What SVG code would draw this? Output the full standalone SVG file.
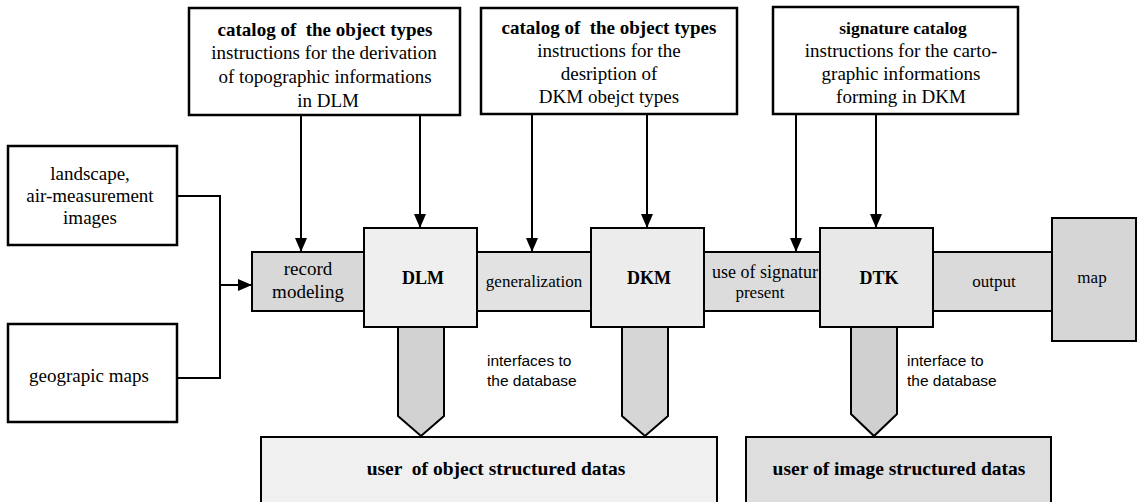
<svg xmlns="http://www.w3.org/2000/svg" width="1138" height="502" viewBox="0 0 1138 502">
  <defs>
    <marker id="arrow" markerWidth="14" markerHeight="12" refX="14" refY="6" orient="auto" markerUnits="userSpaceOnUse">
      <path d="M0,0 L14,6 L0,12 Z" fill="#000"/>
    </marker>
  </defs>
  <style>
    .box{fill:#fff;stroke:#000;stroke-width:2.5}
    .shape{stroke:#000;stroke-width:2}
    .t{font-family:"Liberation Serif","Times New Roman",serif;font-size:19px;fill:#000;text-anchor:middle}
    .sm{font-size:17px}
    .b{font-weight:bold}
    .pre{white-space:pre}
    .s{font-family:"Liberation Sans",Arial,sans-serif;font-size:15.5px;fill:#000}
    .line{fill:none;stroke:#000;stroke-width:2}
  </style>
  <rect width="1138" height="502" fill="#fff"/>

  <!-- instruction catalogs -->
  <g id="catalog-dlm">
    <rect class="box" x="189" y="8" width="271" height="107"/>
    <text class="t b pre" x="325" y="36">catalog of  the object types</text>
    <text class="t" x="324" y="59">instructions for the derivation</text>
    <text class="t" x="325" y="83">of topographic informations</text>
    <text class="t" x="328" y="107">in DLM</text>
  </g>
  <g id="catalog-dkm">
    <rect class="box" x="481" y="8" width="256" height="106"/>
    <text class="t b pre" x="609" y="34">catalog of  the object types</text>
    <text class="t" x="609" y="57">instructions for the</text>
    <text class="t" x="609" y="80">desription of</text>
    <text class="t" x="609" y="103">DKM obejct types</text>
  </g>
  <g id="catalog-signature">
    <rect class="box" x="773" y="7" width="245" height="107"/>
    <text class="t b sm" x="903" y="34" style="font-size:17.5px">signature catalog</text>
    <text class="t" x="901" y="57">instructions for the carto-</text>
    <text class="t" x="901" y="80">graphic informations</text>
    <text class="t" x="901" y="103">forming in DKM</text>
  </g>

  <!-- sources -->
  <g id="landscape">
    <rect class="box" x="8" y="146" width="169" height="99"/>
    <text class="t" x="90" y="180">landscape,</text>
    <text class="t" x="90" y="202">air-measurement</text>
    <text class="t" x="90" y="224">images</text>
  </g>
  <g id="geographic-maps">
    <rect class="box" x="8" y="324" width="169" height="98"/>
    <text class="t" x="89" y="382">geograpic maps</text>
  </g>

  <!-- process band -->
  <g id="record-modeling">
    <rect class="shape" x="252" y="252" width="112" height="59" fill="#d8d8d8"/>
    <text class="t" x="308" y="275">record</text>
    <text class="t" x="308" y="298">modeling</text>
  </g>
  <g id="generalization">
    <rect class="shape" x="477" y="252" width="114" height="59" fill="#e2e2e2"/>
    <text class="t sm" x="534" y="287">generalization</text>
  </g>
  <g id="signature-use">
    <rect class="shape" x="704" y="252" width="116" height="59" fill="#dcdcdc"/>
    <text class="t sm" x="712" y="278" style="text-anchor:start;font-size:18px">use of signatur</text>
    <text class="t sm" x="760" y="298">present</text>
  </g>
  <g id="output">
    <rect class="shape" x="933" y="252" width="119" height="59" fill="#dadada"/>
    <text class="t sm" x="994" y="287">output</text>
  </g>

  <!-- connectors -->
  <g id="connectors">
    <line class="line" x1="301" y1="115" x2="301" y2="252" marker-end="url(#arrow)"/>
    <line class="line" x1="420" y1="115" x2="420" y2="228" marker-end="url(#arrow)"/>
    <line class="line" x1="532" y1="114" x2="532" y2="252" marker-end="url(#arrow)"/>
    <line class="line" x1="647" y1="114" x2="647" y2="228" marker-end="url(#arrow)"/>
    <line class="line" x1="796" y1="114" x2="796" y2="252" marker-end="url(#arrow)"/>
    <line class="line" x1="876" y1="114" x2="876" y2="228" marker-end="url(#arrow)"/>
    <path class="line" d="M177,196 H220 V378 H177"/>
    <line class="line" x1="220" y1="285" x2="252" y2="285" marker-end="url(#arrow)"/>
    <!-- database interfaces -->
    <polygon class="shape" points="398,327 444,327 444,416 421,436 398,416" fill="#d2d2d2"/>
    <polygon class="shape" points="622,327 668,327 668,416 645,436 622,416" fill="#d6d6d6"/>
    <polygon class="shape" points="851,327 897,327 897,414 874,436 851,414" fill="#d0d0d0"/>
  </g>

  <!-- data models -->
  <g id="dlm">
    <rect class="shape" x="364" y="228" width="113" height="99" fill="#efefef"/>
    <text class="t b" x="423" y="284" style="font-size:18px">DLM</text>
  </g>
  <g id="dkm">
    <rect class="shape" x="591" y="228" width="113" height="99" fill="#ececec"/>
    <text class="t b" x="649" y="284" style="font-size:18px">DKM</text>
  </g>
  <g id="dtk">
    <rect class="shape" x="820" y="228" width="113" height="99" fill="#e8e8e8"/>
    <text class="t b" x="879" y="284" style="font-size:18px">DTK</text>
  </g>
  <g id="map">
    <rect class="shape" x="1052" y="218" width="84" height="123" fill="#d6d6d6"/>
    <text class="t sm" x="1092" y="283">map</text>
  </g>

  <!-- interface labels -->
  <g id="interfaces-label">
    <text class="s" x="487" y="366">interfaces to</text>
    <text class="s" x="487" y="386">the database</text>
  </g>
  <g id="interface-label">
    <text class="s" x="907" y="366">interface to</text>
    <text class="s" x="907" y="386">the database</text>
  </g>

  <!-- users -->
  <g id="object-users">
    <rect class="shape" x="261" y="437" width="456" height="70" fill="#f0f0f0"/>
    <text class="t b pre" x="496" y="475" style="font-size:19.5px">user  of object structured datas</text>
  </g>
  <g id="image-users">
    <rect class="shape" x="746" y="437" width="305" height="70" fill="#dedede"/>
    <text class="t b" x="899" y="475" style="font-size:19.5px">user of image structured datas</text>
  </g>
</svg>
